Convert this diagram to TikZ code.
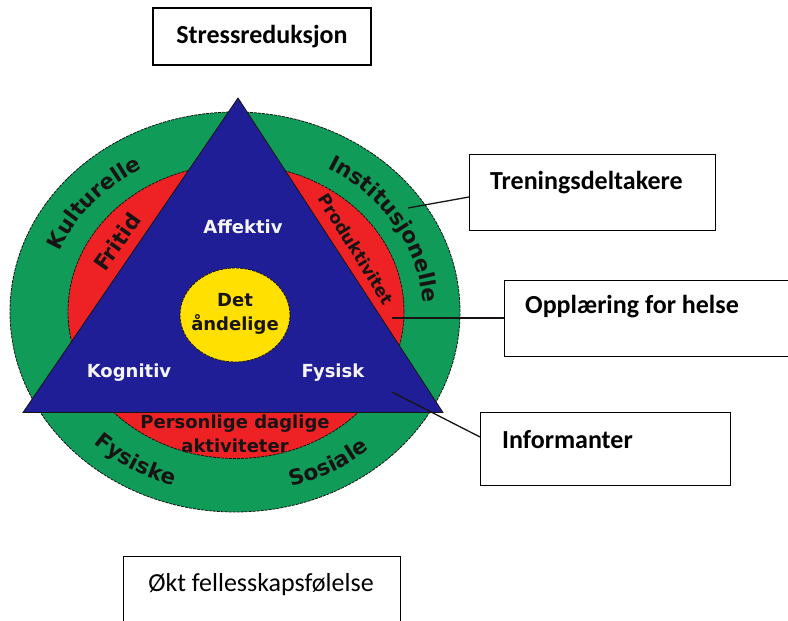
\documentclass[tikz,border=0pt]{standalone}
\usepackage{fontspec}
\setmainfont{Carlito}
\newfontfamily\diagfont{DejaVu Sans}
\usetikzlibrary{decorations.text,calc}
\definecolor{ringgreen}{RGB}{16,155,88}
\definecolor{ringred}{RGB}{238,34,36}
\definecolor{triblue}{RGB}{32,30,150}
\definecolor{coreyellow}{RGB}{255,224,0}
\definecolor{inkdark}{RGB}{25,20,20}
\newcommand\curvefont{\diagfont\bfseries\fontsize{21.5}{25}\selectfont}
\begin{document}
\begin{tikzpicture}[x=1pt,y=1pt,
  outline/.style={draw=inkdark, line width=0.8pt, dash pattern=on 3pt off 1pt},
  box/.style={draw=black, line width=1.2pt, fill=white, inner sep=0pt},
  boxtext/.style={font=\fontsize{26}{30}\selectfont\bfseries, inner sep=0pt},
  plaintext/.style={font=\fontsize{26}{30}\selectfont, inner sep=0pt},
  inlabel/.style={font=\diagfont\bfseries\fontsize{18}{21}\selectfont, text=white!92!gray, inner sep=0pt},
  darklabel/.style={font=\diagfont\bfseries\fontsize{18}{24}\selectfont, text=inkdark, inner sep=0pt, align=center},
  ringtext/.style={font=\curvefont, text=inkdark, inner sep=0pt},
  curved/.style={decorate, decoration={text along path, text align=center, text={|\curvefont\color{inkdark}|#1}}},
  connector/.style={draw=inkdark, line width=1.3pt}
]
\useasboundingbox (0,0) rectangle (788,621);

% rings
\fill[ringgreen] (235,309) ellipse [x radius=225, y radius=200];
\draw[outline] (235,309) ellipse [x radius=225, y radius=200];
\fill[ringred] (236,309.5) ellipse [x radius=168, y radius=147];
\draw[outline] (236,309.5) ellipse [x radius=168, y radius=147];

% triangle
\filldraw[fill=triblue, draw=inkdark, line width=0.8pt, line join=miter]
  (238,523) -- (443,208.5) -- (23,208.5) -- cycle;

% core
\fill[coreyellow] (235,306) ellipse [x radius=55, y radius=47];
\draw[outline] (235,306) ellipse [x radius=55, y radius=47];

% inner labels
\node[inlabel] (affektiv) at (243,394) {Affektiv};
\node[inlabel] (kognitiv) at (129,248) {Kognitiv};
\node[inlabel] (fysisk) at (333,248) {Fysisk};
\node[darklabel] (andelige) at (235,307) {Det\\åndelige};
\node[darklabel] (personlige) at (235,187) {Personlige daglige\\aktiviteter};

% red band labels
\node[ringtext, rotate=55] (fritid) at (117,379) {Fritid};
\node[ringtext, rotate=-58, font=\diagfont\bfseries\fontsize{17}{20}\selectfont] (produktivitet) at (356,372) {Produktivitet};

% green band labels (curved)
\path[curved=Kulturelle] (235,309) ++(178:188 and 165) arc[start angle=178, end angle=102, x radius=188, y radius=165];
\path[curved=Institusjonelle] (235,309) ++(75:188 and 165) arc[start angle=75, end angle=-13, x radius=188, y radius=165];
\path[curved=Fysiske] (235,309) ++(212:205 and 182) arc[start angle=212, end angle=266, x radius=205, y radius=182];
\path[curved=Sosiale] (235,309) ++(272:205 and 182) arc[start angle=272, end angle=326, x radius=205, y radius=182];

% boxes
\node[box, minimum width=218, minimum height=57, boxtext] (stress) at (262,584.5) {Stressreduksjon};

\node[box, minimum width=246, minimum height=76, anchor=north west] (tren) at (469,467) {};
\node[boxtext, anchor=west] (trentxt) at ($(tren.north west)+(21,-29)$) {Treningsdeltakere};

\node[box, minimum width=290, minimum height=76, anchor=north west] (oppl) at (504,341) {};
\node[boxtext, anchor=west] (oppltxt) at ($(oppl.north west)+(21,-27)$) {Opplæring for helse};

\node[box, minimum width=250, minimum height=73, anchor=north west] (info) at (480,209) {};
\node[boxtext, anchor=west] (infotxt) at ($(info.north west)+(22,-28)$) {Informanter};

\node[box, minimum width=277, minimum height=90, anchor=north west] (okt) at (123,65) {};
\node[plaintext] (okttxt) at (261,36) {Økt fellesskapsfølelse};

% connectors
\coordinate (pinst) at (408,413);
\coordinate (pprod) at (392,303);
\coordinate (pfys) at (392,229);
\draw[connector] (pinst) -- ($(tren.north west)+(0,-43)$);
\draw[connector] (pprod) -- (pprod -| oppl.west);
\draw[connector] (pfys) -- ($(info.north west)+(0,-25)$);
\end{tikzpicture}
\end{document}
